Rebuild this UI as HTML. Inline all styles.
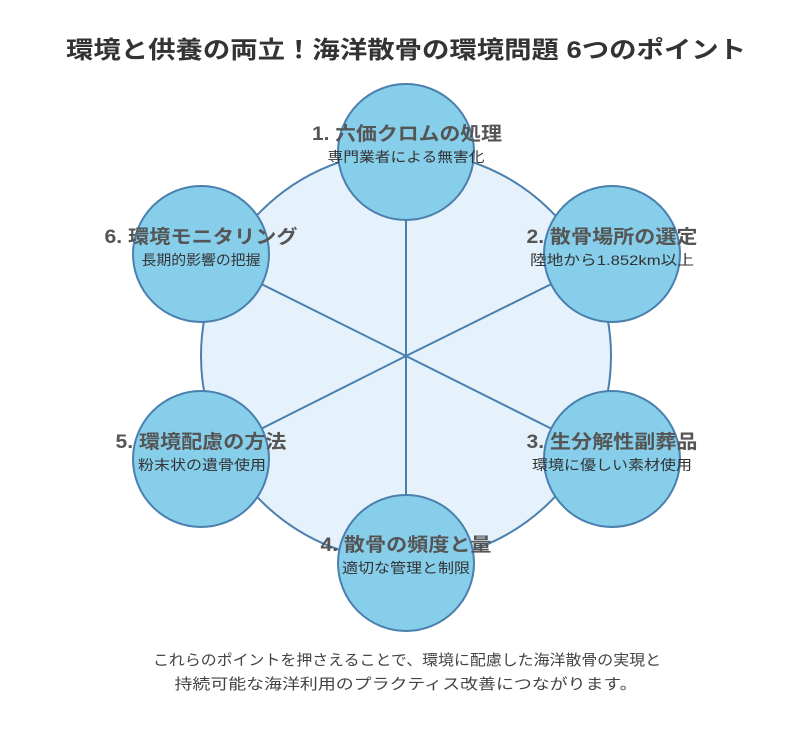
<!DOCTYPE html>
<html><head><meta charset="utf-8"><style>
body{margin:0;background:#fff;}
svg text{font-family:"Liberation Sans","Noto Sans CJK JP",sans-serif;}
</style></head><body>
<svg width="800" height="732" viewBox="0 0 800 732" xmlns="http://www.w3.org/2000/svg">
<rect width="800" height="732" fill="#fff"/>
<text x="406" y="58" text-anchor="middle" font-size="24" font-weight="bold" fill="#333" textLength="680" lengthAdjust="spacingAndGlyphs">環境と供養の両立！海洋散骨の環境問題 6つのポイント</text>
<circle cx="406" cy="356" r="205" fill="#e5f2fc" stroke="#4a7fae" stroke-width="2"/>
<g stroke="#4a7fae" stroke-width="2">
<line x1="406" y1="356" x2="406" y2="152"/>
<line x1="406" y1="356" x2="612" y2="254"/>
<line x1="406" y1="356" x2="612" y2="459"/>
<line x1="406" y1="356" x2="406" y2="563"/>
<line x1="406" y1="356" x2="201" y2="459"/>
<line x1="406" y1="356" x2="201" y2="254"/>
</g>
<g fill="#87ceeb" stroke="#4a7fae" stroke-width="2">
<circle cx="406" cy="152" r="68"/>
<circle cx="612" cy="254" r="68"/>
<circle cx="612" cy="459" r="68"/>
<circle cx="406" cy="563" r="68"/>
<circle cx="201" cy="459" r="68"/>
<circle cx="201" cy="254" r="68"/>
</g>
<g text-anchor="middle" lengthAdjust="spacingAndGlyphs">
<g font-size="19" font-weight="bold" fill="#555">
<text x="407" y="140" textLength="190" lengthAdjust="spacingAndGlyphs">1. 六価クロムの処理</text>
<text x="612" y="243" textLength="171" lengthAdjust="spacingAndGlyphs">2. 散骨場所の選定</text>
<text x="612" y="448" textLength="171" lengthAdjust="spacingAndGlyphs">3. 生分解性副葬品</text>
<text x="406" y="551" textLength="171" lengthAdjust="spacingAndGlyphs">4. 散骨の頻度と量</text>
<text x="201" y="448" textLength="171" lengthAdjust="spacingAndGlyphs">5. 環境配慮の方法</text>
<text x="201" y="243" textLength="193" lengthAdjust="spacingAndGlyphs">6. 環境モニタリング</text>
</g>
<g font-size="14" fill="#333">
<text x="406" y="162" textLength="157" lengthAdjust="spacingAndGlyphs">専門業者による無害化</text>
<text x="612" y="265" textLength="164" lengthAdjust="spacingAndGlyphs">陸地から1.852km以上</text>
<text x="612" y="470" textLength="160" lengthAdjust="spacingAndGlyphs">環境に優しい素材使用</text>
<text x="406" y="573" textLength="128" lengthAdjust="spacingAndGlyphs">適切な管理と制限</text>
<text x="202" y="470" textLength="128" lengthAdjust="spacingAndGlyphs">粉末状の遺骨使用</text>
<text x="201" y="265" textLength="119" lengthAdjust="spacingAndGlyphs">長期的影響の把握</text>
</g>
<g font-size="15" fill="#444">
<text x="407" y="665" textLength="508" lengthAdjust="spacingAndGlyphs">これらのポイントを押さえることで、環境に配慮した海洋散骨の実現と</text>
<text x="406" y="689" textLength="463" lengthAdjust="spacingAndGlyphs">持続可能な海洋利用のプラクティス改善につながります。</text>
</g>
</g>
</svg>
</body></html>
